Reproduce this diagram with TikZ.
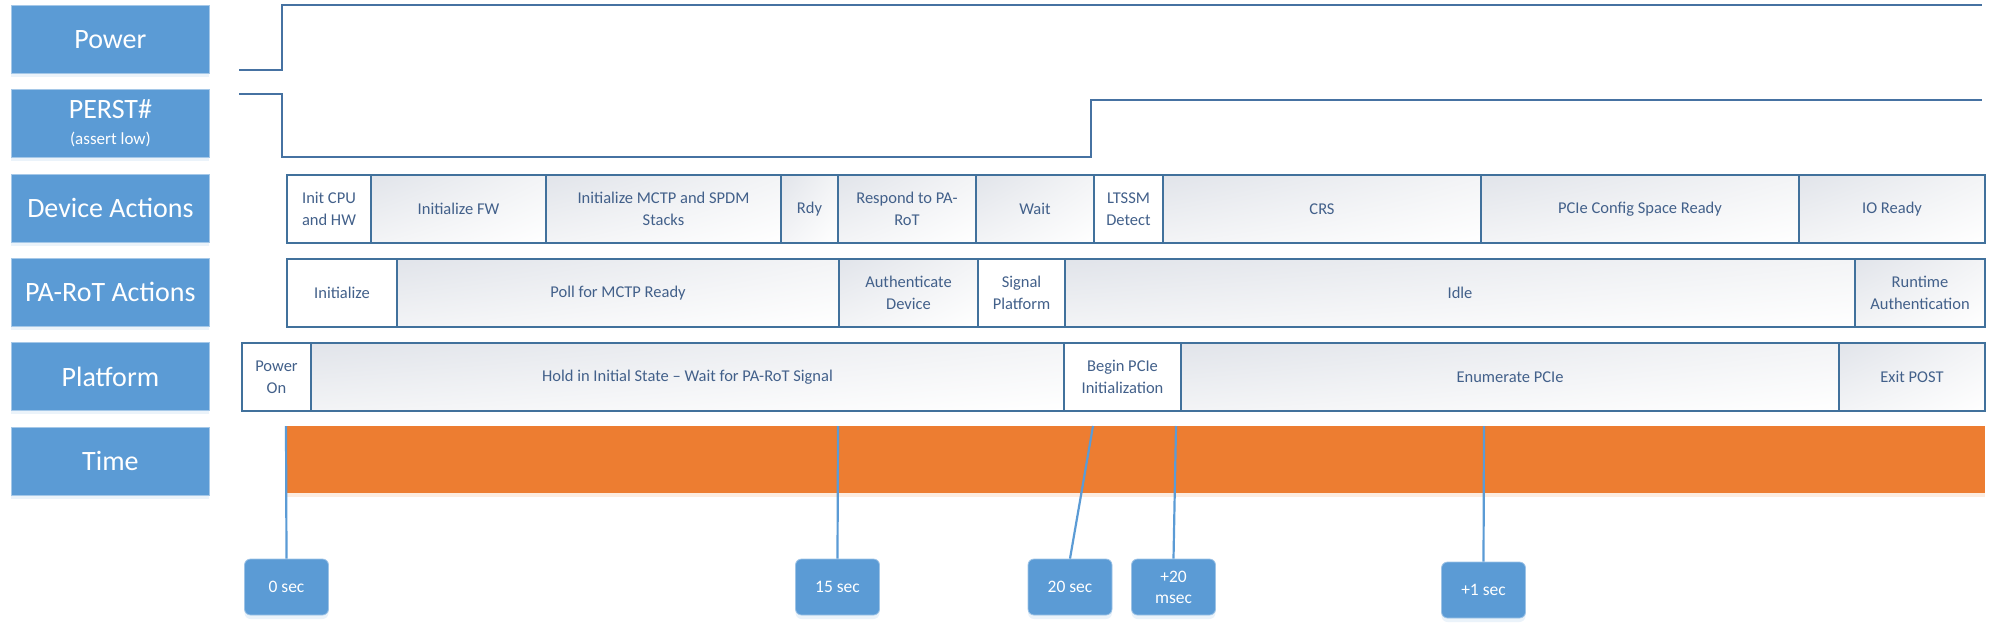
\documentclass[tikz,border=0pt]{standalone}
\usepackage{fontspec}
\setmainfont{Carlito}
\usetikzlibrary{shadows,shadings}
\definecolor{labblue}{HTML}{5B9BD5}
\definecolor{edgec}{HTML}{41719C}
\definecolor{sigc}{HTML}{4672A2}
\definecolor{txtc}{HTML}{42608A}
\definecolor{orng}{HTML}{ED7D31}
\definecolor{shadeA}{HTML}{E1E4EA}
\definecolor{shadeB}{HTML}{F3F4F6}
\newcommand\mkcell[6][]{%
  \pgfmathsetmacro\cw{#4-#3}%
  \node[cellbox,#1,minimum width=\cw pt] (#2) at (#3,#5) {#6};}
\begin{document}
\begin{tikzpicture}[x=1pt,y=-1pt,
  lab/.style={fill=labblue, draw=labblue!55!white, line width=0.8pt, text=white,
    font=\fontsize{28}{32}\selectfont, minimum width=198pt, minimum height=68pt,
    anchor=north west, inner sep=0pt, align=center,
    drop shadow={shadow xshift=0pt, shadow yshift=-4pt, opacity=0.12, fill=labblue}},
  cellbox/.style={draw=edgec, line width=2pt, anchor=north west, inner sep=0pt,
    minimum height=68pt, align=center, text=txtc, font=\fontsize{16.5}{22}\selectfont,
    upper left=shadeA, upper right=shadeB, lower left=shadeB, lower right=white},
  plain/.style={upper left=white, upper right=white, lower left=white, lower right=white},
  sig/.style={draw=sigc, line width=2.4pt},
  markbox/.style={fill=labblue, draw=labblue!60!white, line width=0.8pt, rounded corners=6pt,
    minimum width=84pt, minimum height=56pt, inner sep=0pt, align=center, text=white,
    font=\fontsize{17.5}{21}\selectfont,
    drop shadow={shadow xshift=0pt, shadow yshift=-4pt, opacity=0.12, fill=labblue}},
  tick/.style={draw=labblue, line width=2.2pt}]
\useasboundingbox (0,0) rectangle (1999,633);
% row labels
\node[lab] (lpow) at (11,5) {Power};
\node[lab] (lper) at (11,89) {PERST\#\\[-6pt]{\fontsize{17}{18}\selectfont (assert low)}};
\node[lab] (ldev) at (11,174) {Device Actions};
\node[lab] (lrot) at (11,258) {PA-RoT Actions};
\node[lab] (lplt) at (11,342) {Platform};
\node[lab] (ltim) at (11,427) {Time};
% signals
\draw[sig] (239,70) -- (282,70) -- (282,5) -- (1982,5);
\draw[sig] (239,94) -- (282,94) -- (282,157) -- (1091,157) -- (1091,100) -- (1982,100);
% device actions
\mkcell[plain]{dc1}{286}{370}{174}{Init CPU\\and HW}
\mkcell{dc2}{370}{545}{174}{Initialize FW}
\mkcell{dc3}{545}{780}{174}{Initialize MCTP and SPDM\\Stacks}
\mkcell{dc4}{780}{837}{174}{Rdy}
\mkcell{dc5}{837}{975}{174}{Respond to PA-\\RoT}
\mkcell{dc6}{975}{1093}{174}{Wait}
\mkcell[plain]{dc7}{1093}{1162}{174}{LTSSM\\Detect}
\mkcell{dc8}{1162}{1480}{174}{CRS}
\mkcell{dc9}{1480}{1798}{174}{PCIe Config Space Ready}
\mkcell{dc10}{1798}{1984}{174}{IO Ready}
% PA-RoT actions
\mkcell[plain]{pr1}{286}{396}{258}{Initialize}
\mkcell{pr2}{396}{838}{258}{Poll for MCTP Ready}
\mkcell{pr3}{838}{977}{258}{Authenticate\\Device}
\mkcell[plain]{pr4}{977}{1064}{258}{Signal\\Platform}
\mkcell{pr5}{1064}{1854}{258}{Idle}
\mkcell{pr6}{1854}{1984}{258}{Runtime\\Authentication}
% platform
\mkcell[plain]{pl1}{241}{310}{342}{Power\\On}
\mkcell{pl2}{310}{1063}{342}{Hold in Initial State – Wait for PA-RoT Signal}
\mkcell[plain]{pl3}{1063}{1180}{342}{Begin PCIe\\Initialization}
\mkcell{pl4}{1180}{1838}{342}{Enumerate PCIe}
\mkcell{pl5}{1838}{1984}{342}{Exit POST}
% time bar
\node[fill=orng, minimum width=1699pt, minimum height=67pt, inner sep=0pt, anchor=north west,
  drop shadow={shadow xshift=0pt, shadow yshift=-4pt, opacity=0.15, fill=orng}] (bar) at (286,426) {};
% markers
\node[markbox] (m0) at (286.5,587) {0 sec};
\node[markbox] (m15) at (837.5,587) {15 sec};
\node[markbox] (m20) at (1070,587) {20 sec};
\node[markbox] (m20ms) at (1173.5,587) {+20\\msec};
\node[markbox] (m1) at (1483.5,590) {+1 sec};
\coordinate (t0) at (286,426);
\coordinate (t15) at (838,426);
\coordinate (t20) at (1093,426);
\coordinate (t20ms) at (1176,426);
\coordinate (t1) at (1484,426);
\draw[tick] (t0) -- (m0.north);
\draw[tick] (t15) -- (m15.north);
\draw[tick] (t20) -- (m20.north);
\draw[tick] (t20ms) -- (m20ms.north);
\draw[tick] (t1) -- (m1.north);
\end{tikzpicture}
\end{document}
